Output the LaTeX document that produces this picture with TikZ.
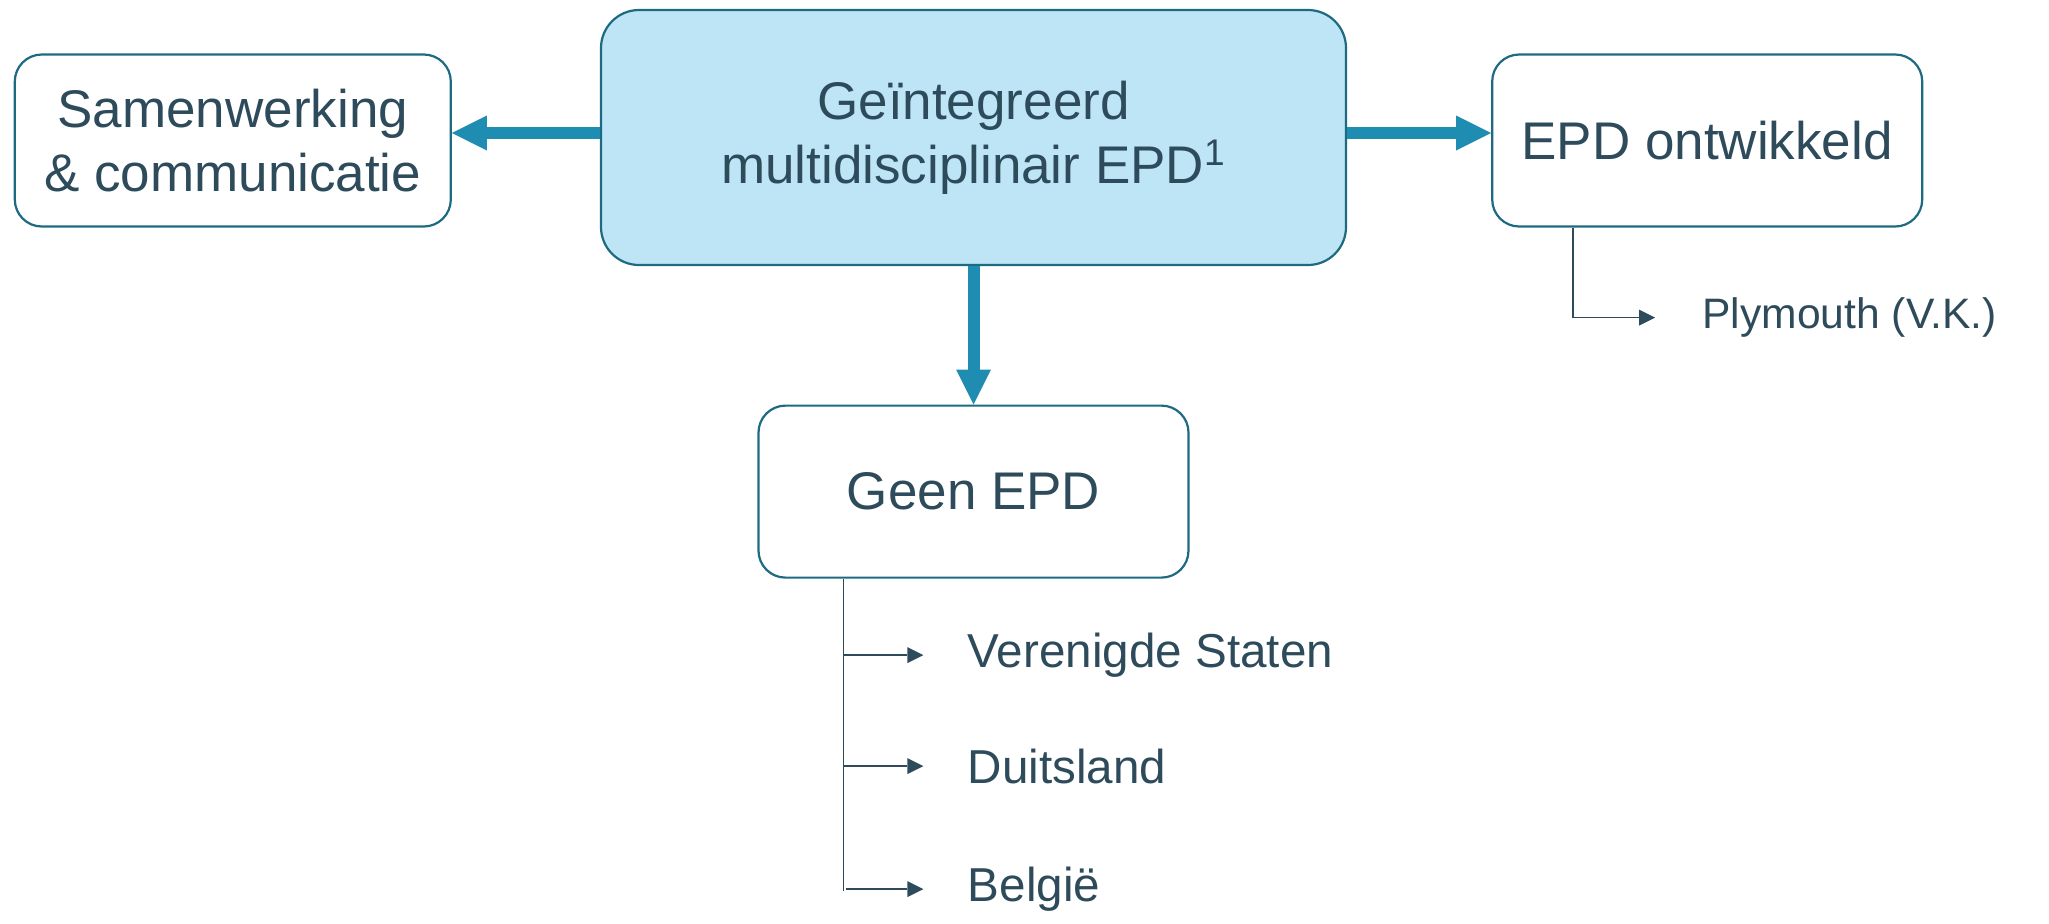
\documentclass[tikz,border=0pt]{standalone}
\usepackage{fontspec}
\setmainfont{Liberation Sans}
\usetikzlibrary{positioning,arrows.meta}
\definecolor{boxfill}{HTML}{BDE5F5}
\definecolor{boxline}{HTML}{1D6A82}
\definecolor{flowblue}{HTML}{1F8DB1}
\definecolor{ink}{HTML}{2E4B5C}
\begin{document}
\begin{tikzpicture}

  % Definitions
  \tikzstyle{Block} = [rectangle, rounded corners=13.5pt, minimum width=215pt, minimum height=86pt, align=center, draw=boxline, line width=1.1pt, text=ink, font=\fontsize{26.5}{32}\selectfont]
  \tikzstyle{Core} = [Block, fill=boxfill, rounded corners=19pt, minimum width=372.5pt, minimum height=127.5pt]
  \tikzstyle{Leaf} = [inner sep=0pt, anchor=west, text=ink, font=\fontsize{23.8}{28}\selectfont]
  \tikzstyle{flow} = [line width=6pt, draw=flowblue, -{Triangle[length=17.5pt,width=17.5pt,line width=0pt]}]
  \tikzstyle{stem} = [line width=0.85pt, draw=ink]
  \tikzstyle{branch} = [stem, -{Triangle[length=8pt,width=8pt,line width=0pt]}]

  \useasboundingbox (0,0) rectangle (1024.5pt,-461.5pt);

  \node (Core) [Core] at (486.75pt,-68.75pt) {Geïntegreerd\\multidisciplinair EPD\textsuperscript{1}};
  \node (Collab) [Block, minimum width=218pt, left=74pt of Core, yshift=-1.5pt] {Samenwerking\\\& communicatie};
  \node (Dev) [Block, right=72pt of Core, yshift=-1.5pt] {EPD ontwikkeld};
  \node (Geen) [Block, below=69.2pt of Core] {Geen EPD};

  \draw [flow] ([yshift=2.25pt]Core.west) -- ([yshift=2.25pt]Core.west -| Collab.east);
  \draw [flow] ([yshift=2.25pt]Core.east) -- ([yshift=2.25pt]Core.east -| Dev.west);
  \draw [flow] (Core.south) -- (Geen.north);

  % developed: Plymouth
  \coordinate (DevFoot) at ([xshift=41pt]Dev.south west);
  \coordinate [below=45pt of DevFoot] (PlyTurn);
  \node (Ply) [Leaf, font=\fontsize{21.3}{26}\selectfont, right=64.5pt of PlyTurn] {Plymouth (V.K.)};
  \draw [stem] (DevFoot) -- (PlyTurn);
  \draw [branch, shorten >=23.5pt] (PlyTurn) -- (Ply.west);

  % no EPD: countries
  \coordinate (GeenFoot) at ([xshift=43pt]Geen.south west);
  \coordinate [below=38.2pt of GeenFoot] (USTurn);
  \coordinate [below=93.7pt of GeenFoot] (DETurn);
  \coordinate [below=155.2pt of GeenFoot] (BETurn);
  \coordinate [below=156.2pt of GeenFoot] (GeenEnd);
  \node (US) [Leaf, right=62pt of USTurn] {Verenigde Staten};
  \node (DE) [Leaf, right=62pt of DETurn] {Duitsland};
  \node (BE) [Leaf, right=62pt of BETurn] {België};
  \draw [stem] (GeenFoot) -- (GeenEnd);
  \draw [branch, shorten >=22pt] (USTurn) -- (US.west);
  \draw [branch, shorten >=22pt] (DETurn) -- (DE.west);
  \draw [branch, shorten >=22pt] ([xshift=1.5pt]BETurn) -- (BE.west);

\end{tikzpicture}
\end{document}
